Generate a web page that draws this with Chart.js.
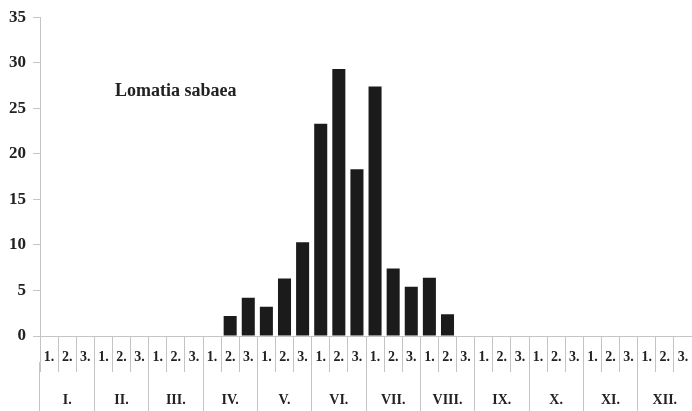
<!DOCTYPE html>
<html>
<head>
<meta charset="utf-8">
<script src="https://cdn.jsdelivr.net/npm/chart.js@4.4.0/dist/chart.umd.min.js"></script>
<style>
  body { margin: 0; background: #fff; }
</style>
</head>
<body>
<canvas id="lomatiaChart" width="692" height="411"></canvas>
<script>
// dekade (1., 2., 3.) u svakom mjesecu
const months = ['I.', 'II.', 'III.', 'IV.', 'V.', 'VI.', 'VII.', 'VIII.', 'IX.', 'X.', 'XI.', 'XII.'];
const decades = ['1.', '2.', '3.'];
const decadeLabels = months.flatMap(m => decades.map(d => d));
const counts = [
    0, 0, 0,
    0, 0, 0,
    0, 0, 0,
    0, 2.2, 4.2,
    3.2, 6.3, 10.3,
    23.3, 29.3, 18.3,
    27.4, 7.4, 5.4,
    6.4, 2.4, 0,
    0, 0, 0,
    0, 0, 0,
    0, 0, 0,
    0, 0, 0
];
const yTicks = [0, 5, 10, 15, 20, 25, 30, 35];
const speciesName = 'Lomatia sabaea';

const serif = '"Liberation Serif", "DejaVu Serif", serif';
const gridGrey = '#c4c4c4';

// naziv vrste unutar grafa
const speciesLabel = {
    id: 'speciesLabel',
    afterDraw(chart) {
        const ctx = chart.ctx;
        const area = chart.chartArea;
        ctx.save();
        ctx.font = 'bold 18px ' + serif;
        ctx.fillStyle = '#222';
        ctx.textBaseline = 'alphabetic';
        ctx.fillText(speciesName, area.left + 75, 96);
        ctx.restore();
    }
};

const ctx = document.getElementById('lomatiaChart').getContext('2d');
const chart = new Chart(ctx, {
    type: 'bar',
    data: {
        labels: decadeLabels,
        datasets: [{
            label: speciesName,
            data: counts,
            backgroundColor: '#1b1b1b',
            borderWidth: 0,
            barPercentage: 0.72,
            categoryPercentage: 1
        }]
    },
    options: {
        responsive: false,
        animation: false,
        layout: { padding: { top: 16, right: -3, left: 0, bottom: 0 } },
        plugins: {
            legend: { display: false },
            tooltip: { enabled: false }
        },
        scales: {
            y: {
                min: 0,
                max: 35,
                afterBuildTicks: (scale) => { scale.ticks = yTicks.map(v => ({ value: v })); },
                afterFit: (scale) => { scale.width = 40; },
                grid: {
                    drawOnChartArea: false,
                    tickLength: 7,
                    color: gridGrey
                },
                border: { display: true, color: gridGrey, width: 1 },
                ticks: {
                    padding: 7,
                    color: '#222',
                    font: { family: serif, size: 17, weight: 'bold' }
                }
            },
            x: {
                position: 'bottom',
                offset: true,
                afterFit: (scale) => { scale.height = 26; },
                grid: {
                    offset: true,
                    drawOnChartArea: false,
                    tickLength: 36,
                    color: gridGrey
                },
                border: { display: true, color: gridGrey, width: 1 },
                ticks: {
                    padding: -23,
                    autoSkip: false,
                    maxRotation: 0,
                    color: '#222',
                    font: { family: serif, size: 14, weight: 'bold' }
                }
            },
            months: {
                type: 'category',
                position: 'bottom',
                labels: months,
                offset: true,
                afterFit: (scale) => { scale.height = 49; },
                grid: {
                    offset: true,
                    drawOnChartArea: false,
                    tickLength: 49,
                    color: gridGrey
                },
                border: { display: false },
                ticks: {
                    padding: -19,
                    autoSkip: false,
                    maxRotation: 0,
                    color: '#222',
                    font: { family: serif, size: 14, weight: 'bold' }
                }
            }
        }
    },
    plugins: [speciesLabel]
});
</script>
</body>
</html>
